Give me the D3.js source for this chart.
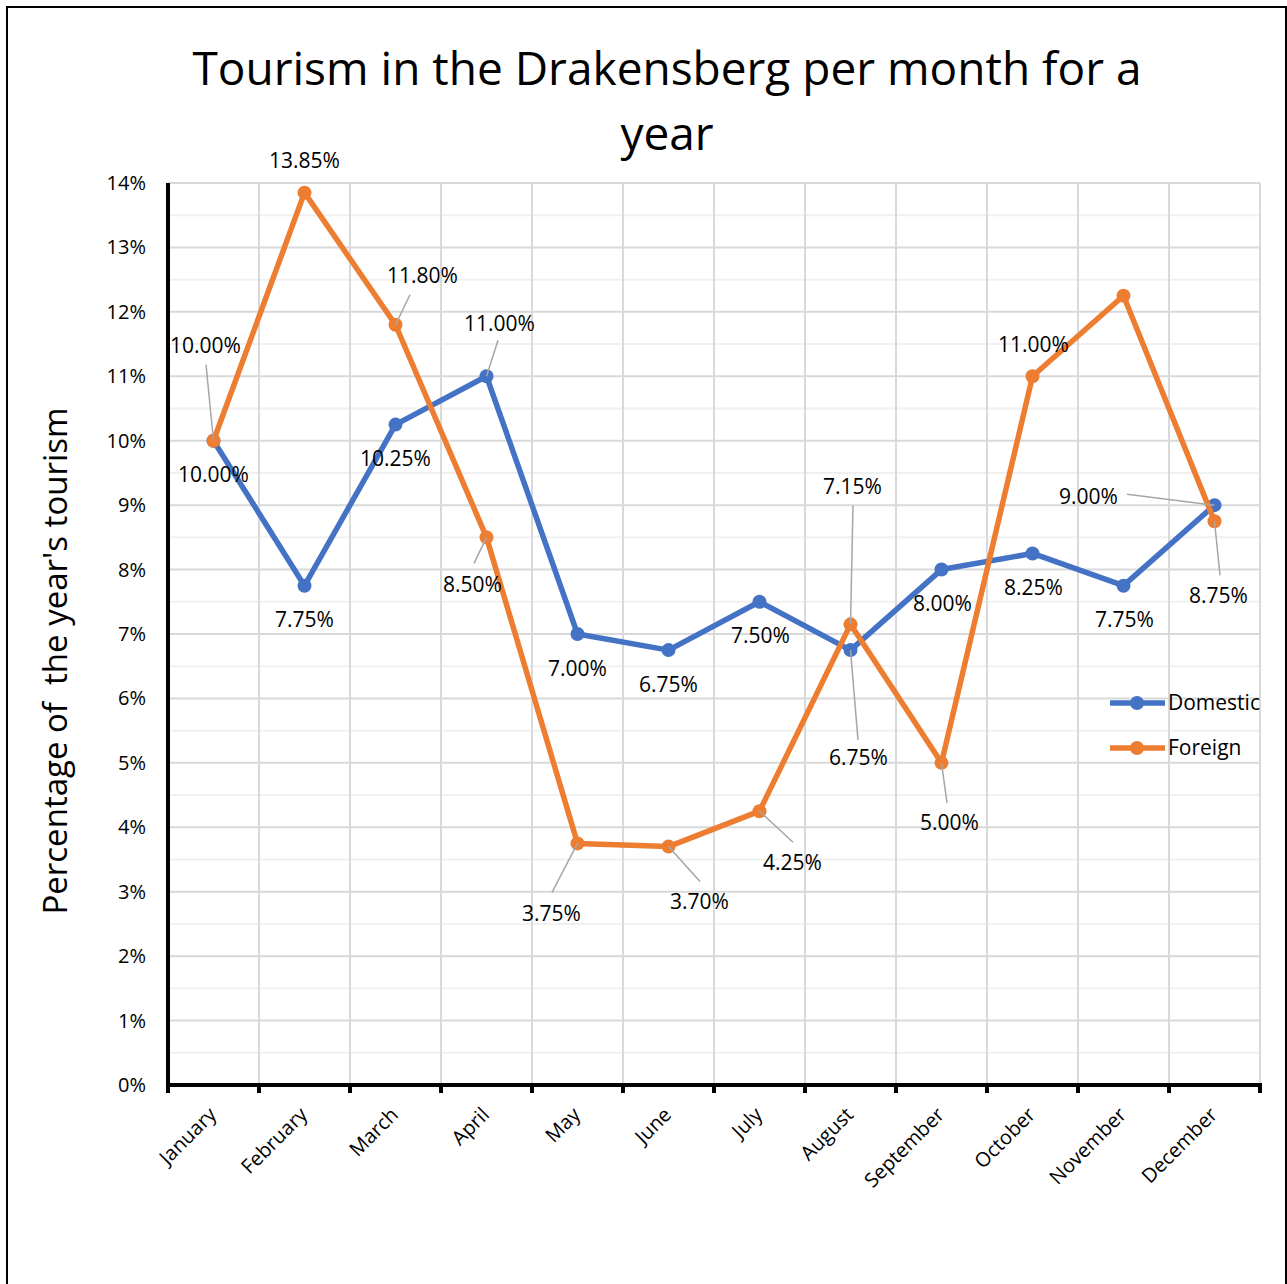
<!DOCTYPE html>
<html>
<head>
<meta charset="utf-8">
<script src="https://cdn.jsdelivr.net/npm/d3@7"></script>
<style>
  body { margin: 0; background: #fff; }
  text { font-family: "Open Sans", sans-serif; fill: #000; }
</style>
</head>
<body>
<svg id="chart" width="1287" height="1284"></svg>
<script>
const months = ['January', 'February', 'March', 'April', 'May', 'June', 'July',
    'August', 'September', 'October', 'November', 'December'];
const domestic = [10, 7.75, 10.25, 11, 7, 6.75, 7.5, 6.75, 8, 8.25, 7.75, 9];
const foreign = [10, 13.85, 11.8, 8.5, 3.75, 3.7, 4.25, 7.15, 5, 11, 12.25, 8.75];
const yTicks = [0, 1, 2, 3, 4, 5, 6, 7, 8, 9, 10, 11, 12, 13, 14];

// label placement: [dx, dy, leaderX, leaderY] relative to the point (null = no label)
const domesticLabels = [
    [0, 34], [0, 34], [0, 34], [13, -53, 11.5, -36], [0, 35], [0, 35],
    [1, 34], [8, 108, 7.5, 90], [1, 34], [1, 34], [1, 34], [-126, -8, -87.5, -11]
];
const foreignLabels = [
    [-8, -95, -7.5, -76], [0, -32], [27, -49, 14.5, -30], [-14, 47, -12.5, 26],
    [-26, 70, -25.5, 49], [31, 55, 31.5, 35], [33, 51, 33.5, 31], [2, -138, 2.5, -119],
    [8, 60, 5.5, 40], [1, -32], null, [4, 74, 5.5, 54]
];

const svg = d3.select('#chart');
const plotL = 168, plotR = 1260, plotT = 183, plotB = 1085;

const x = d3.scaleBand().domain(months).range([plotL, plotR]);
const y = d3.scaleLinear().domain([0, 14]).range([plotB, plotT]);
const cx = m => x(m) + x.bandwidth() / 2;

// outer frame
svg.append('rect').attr('x', 7).attr('y', 7).attr('width', 1279).attr('height', 1300)
    .attr('fill', 'none').attr('stroke', '#000').attr('stroke-width', 2);

// minor gridlines
svg.append('g').selectAll('line')
    .data(d3.range(0.5, 14, 1))
    .join('line')
    .attr('x1', plotL).attr('x2', plotR)
    .attr('y1', d => y(d)).attr('y2', d => y(d))
    .attr('stroke', '#f0f0f0').attr('stroke-width', 2);

// major gridlines
svg.append('g').selectAll('line')
    .data(yTicks)
    .join('line')
    .attr('x1', plotL).attr('x2', plotR)
    .attr('y1', d => y(d)).attr('y2', d => y(d))
    .attr('stroke', '#d9d9d9').attr('stroke-width', 2);

// vertical gridlines at category boundaries
const bounds = months.map(m => x(m)).concat([plotR]);
svg.append('g').selectAll('line')
    .data(bounds)
    .join('line')
    .attr('x1', d => d).attr('x2', d => d)
    .attr('y1', plotT).attr('y2', plotB)
    .attr('stroke', '#d9d9d9').attr('stroke-width', 2);

// y tick labels
svg.append('g').selectAll('text')
    .data(yTicks)
    .join('text')
    .attr('x', 146).attr('y', d => y(d))
    .attr('dy', '0.35em')
    .attr('text-anchor', 'end')
    .style('font-size', '20px')
    .text(d => d + '%');

// axes
svg.append('line').attr('x1', plotL).attr('x2', plotL).attr('y1', plotT).attr('y2', plotB + 2)
    .attr('stroke', '#000').attr('stroke-width', 4);
svg.append('line').attr('x1', plotL - 2).attr('x2', plotR + 2).attr('y1', plotB).attr('y2', plotB)
    .attr('stroke', '#000').attr('stroke-width', 4);
svg.append('g').selectAll('line')
    .data(bounds)
    .join('line')
    .attr('x1', d => d).attr('x2', d => d)
    .attr('y1', plotB).attr('y2', plotB + 8)
    .attr('stroke', '#000').attr('stroke-width', 4);

// x labels
svg.append('g').selectAll('text')
    .data(months)
    .join('text')
    .attr('transform', d => `translate(${cx(d) + 4},${plotB + 31}) rotate(-45)`)
    .attr('text-anchor', 'end')
    .style('font-size', '20px')
    .text(d => d);

// title
svg.append('text').attr('x', 667).attr('y', 85).attr('text-anchor', 'middle')
    .style('font-size', '46px').text('Tourism in the Drakensberg per month for a');
svg.append('text').attr('x', 667).attr('y', 150).attr('text-anchor', 'middle')
    .style('font-size', '46px').text('year');

// y axis title
svg.append('text')
    .attr('transform', 'translate(67,661) rotate(-90)')
    .attr('text-anchor', 'middle')
    .style('font-size', '33px')
    .style('white-space', 'pre')
    .text("Percentage of  the year's tourism");

const series = [
    { name: 'Domestic', values: domestic, color: '#4472C4', labels: domesticLabels },
    { name: 'Foreign', values: foreign, color: '#ED7D31', labels: foreignLabels }
];

const line = d3.line().x((d, i) => cx(months[i])).y(d => y(d));

series.forEach(s => {
    svg.append('path').datum(s.values)
        .attr('d', line)
        .attr('fill', 'none')
        .attr('stroke', s.color)
        .attr('stroke-width', 5.5)
        .attr('stroke-linejoin', 'round');
    svg.append('g').selectAll('circle')
        .data(s.values)
        .join('circle')
        .attr('cx', (d, i) => cx(months[i]))
        .attr('cy', d => y(d))
        .attr('r', 7)
        .attr('fill', s.color);
});

series.forEach(s => {
    const g = svg.append('g');
    s.values.forEach((v, i) => {
        const lab = s.labels[i];
        if (!lab) return;
        const px = cx(months[i]), py = y(v);
        if (lab.length > 2) {
            g.append('line')
                .attr('x1', px + lab[2]).attr('y1', py + lab[3])
                .attr('x2', px).attr('y2', py)
                .attr('stroke', '#a6a6a6').attr('stroke-width', 1.5);
        }
        g.append('text')
            .attr('x', px + lab[0]).attr('y', py + lab[1])
            .attr('dy', '0.35em')
            .attr('text-anchor', 'middle')
            .style('font-size', '21px')
            .text(v.toFixed(2) + '%');
    });
});

// legend
const legend = svg.append('g').selectAll('g')
    .data(series)
    .join('g')
    .attr('transform', (d, i) => `translate(1110,${703 + i * 45})`);
legend.append('line').attr('x1', 0).attr('x2', 55).attr('y1', 0).attr('y2', 0)
    .attr('stroke', d => d.color).attr('stroke-width', 5.5);
legend.append('circle').attr('cx', 27).attr('cy', 0).attr('r', 7).attr('fill', d => d.color);
legend.append('text').attr('x', 58).attr('y', 0).attr('dy', '0.35em')
    .style('font-size', '21px').text(d => d.name);
</script>
</body>
</html>
